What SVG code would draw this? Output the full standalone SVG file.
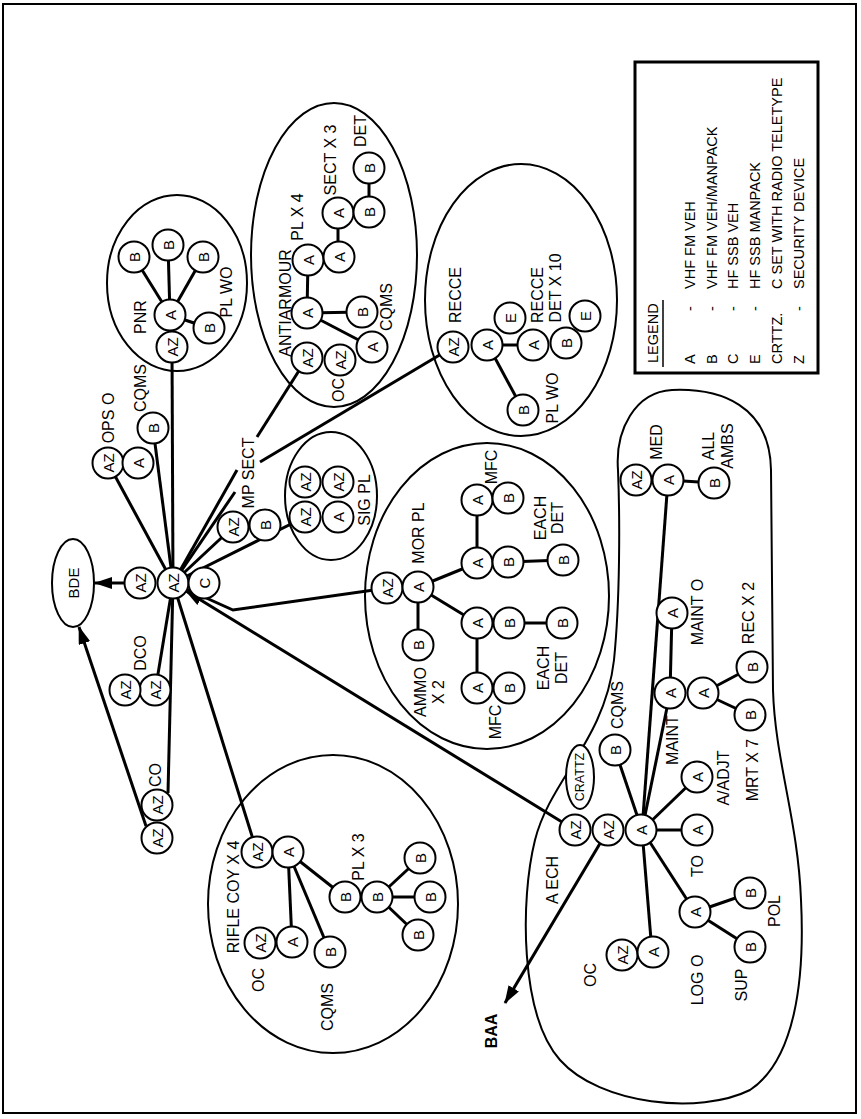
<svg xmlns="http://www.w3.org/2000/svg" width="861" height="1119" viewBox="0 0 861 1119">
<defs>
<style>
text{font-family:"Liberation Sans",Arial,sans-serif;fill:#000;dominant-baseline:central}
.n circle{fill:#fff;stroke:#000;stroke-width:2}
.n text{font-size:15px;text-anchor:middle}
.lb{font-size:16px;text-anchor:middle}
.g{fill:none;stroke:#000;stroke-width:2}
.cn line,.cn polyline{stroke:#000;stroke-width:3;fill:none}
.lg{font-size:14.5px;text-anchor:start}
</style>
<marker id="ar" markerUnits="userSpaceOnUse" markerWidth="18" markerHeight="12" refX="17" refY="6" orient="auto"><path d="M0,0 L18,6 L0,12 z" fill="#000"/></marker>
</defs>
<rect x="3" y="4" width="853" height="1109" fill="#fff" stroke="#000" stroke-width="2"/>

<!-- group outlines -->
<g id="pnr-group"><ellipse class="g" cx="177" cy="283" rx="70" ry="88"/></g>
<g id="antiarmour-group"><ellipse class="g" cx="334" cy="255" rx="83" ry="152"/></g>
<g id="recce-group"><ellipse class="g" cx="521" cy="300" rx="96" ry="136"/></g>
<g id="sigpl-group"><ellipse class="g" cx="331" cy="496" rx="46" ry="64"/></g>
<g id="morpl-group"><ellipse class="g" cx="487" cy="596" rx="122" ry="153"/></g>
<g id="riflecoy-group"><ellipse class="g" cx="333" cy="904" rx="125" ry="149"/></g>
<g id="aech-group"><path class="g" d="M618,470 C615,430 635,392 672,390 C720,388 770,405 771,470 L773,690 C775,760 798,820 801,900 C805,980 795,1060 750,1090 C700,1115 600,1105 560,1060 C520,1015 520,900 535,840 C550,780 605,740 614,660 C620,600 620,520 618,470 Z"/></g>

<!-- connectors -->
<g id="connectors" class="cn">
<line x1="173" y1="583" x2="108" y2="463"/>
<line x1="173" y1="583" x2="153" y2="428"/>
<line x1="173" y1="583" x2="172" y2="347"/>
<line x1="173" y1="583" x2="237" y2="470"/>
<line x1="257" y1="437" x2="307" y2="358"/>
<line x1="173" y1="583" x2="235" y2="492"/>
<line x1="260" y1="462" x2="453" y2="347"/>
<line x1="173" y1="583" x2="233" y2="527"/>
<line x1="173" y1="583" x2="305" y2="517"/>
<polyline points="173,583 233,610 388,588"/>
<line x1="575" y1="830" x2="186" y2="591" marker-end="url(#ar)"/>
<line x1="173" y1="583" x2="257" y2="852"/>
<line x1="173" y1="583" x2="168" y2="793"/>
<line x1="173" y1="583" x2="157" y2="680"/>
<line x1="125" y1="583" x2="95" y2="583" marker-end="url(#ar)"/>
<line x1="146" y1="826" x2="79" y2="627" marker-end="url(#ar)"/>
<line x1="608" y1="830" x2="505" y2="1003" marker-end="url(#ar)"/>
<!-- PNR -->
<line x1="170" y1="315" x2="134" y2="257"/>
<line x1="170" y1="315" x2="168" y2="245"/>
<line x1="170" y1="315" x2="203" y2="257"/>
<line x1="170" y1="315" x2="209" y2="328"/>
<!-- antiarmour -->
<line x1="307" y1="313" x2="362" y2="312"/>
<line x1="307" y1="313" x2="372" y2="347"/>
<line x1="307" y1="313" x2="308" y2="260"/>
<line x1="338" y1="257" x2="338" y2="213"/>
<line x1="369" y1="212" x2="369" y2="168"/>
<!-- recce -->
<line x1="488" y1="345" x2="533" y2="345"/>
<line x1="488" y1="345" x2="523" y2="410"/>
<!-- mor pl -->
<line x1="418" y1="587" x2="418" y2="645"/>
<line x1="418" y1="587" x2="477" y2="563"/>
<line x1="418" y1="587" x2="477" y2="623"/>
<line x1="477" y1="563" x2="477" y2="500"/>
<line x1="508" y1="562" x2="563" y2="560"/>
<line x1="477" y1="623" x2="477" y2="688"/>
<line x1="510" y1="623" x2="562" y2="623"/>
<!-- rifle coy -->
<line x1="288" y1="852" x2="345" y2="897"/>
<line x1="288" y1="852" x2="292" y2="942"/>
<line x1="288" y1="852" x2="330" y2="952"/>
<line x1="378" y1="897" x2="420" y2="858"/>
<line x1="378" y1="897" x2="430" y2="897"/>
<line x1="378" y1="897" x2="418" y2="935"/>
<!-- a ech -->
<line x1="642" y1="830" x2="615" y2="750"/>
<line x1="642" y1="830" x2="670" y2="693"/>
<line x1="642" y1="830" x2="668" y2="480"/>
<line x1="642" y1="830" x2="697" y2="777"/>
<line x1="642" y1="830" x2="697" y2="830"/>
<line x1="642" y1="830" x2="695" y2="912"/>
<line x1="642" y1="830" x2="652" y2="952"/>
<line x1="670" y1="693" x2="672" y2="613"/>
<line x1="703" y1="693" x2="752" y2="667"/>
<line x1="703" y1="693" x2="750" y2="715"/>
<line x1="695" y1="912" x2="750" y2="893"/>
<line x1="695" y1="912" x2="750" y2="947"/>
<line x1="668" y1="480" x2="714" y2="483"/>
</g>

<!-- BDE -->
<g id="bde"><ellipse cx="73" cy="583" rx="21" ry="44" fill="#fff" stroke="#000" stroke-width="2"/><text style="font-size:15px;text-anchor:middle" transform="translate(73 583) rotate(-90)">BDE</text></g>

<!-- hub -->
<g id="hub-az" class="n"><circle cx="173" cy="583" r="15.5"/><text transform="translate(173 583) rotate(-90)">AZ</text></g>
<g id="hub-c" class="n"><circle cx="204" cy="583" r="15.5"/><text transform="translate(204 583) rotate(-90)">C</text></g>
<g id="hub-az2" class="n"><circle cx="140" cy="583" r="15.5"/><text transform="translate(140 583) rotate(-90)">AZ</text></g>

<!-- DCO / CO -->
<g id="dco-az1" class="n"><circle cx="155" cy="690" r="15.5"/><text transform="translate(155 690) rotate(-90)">AZ</text></g>
<g id="dco-az2" class="n"><circle cx="125" cy="690" r="15.5"/><text transform="translate(125 690) rotate(-90)">AZ</text></g>
<g id="co-az1" class="n"><circle cx="157" cy="805" r="15.5"/><text transform="translate(157 805) rotate(-90)">AZ</text></g>
<g id="co-az2" class="n"><circle cx="157" cy="838" r="15.5"/><text transform="translate(157 838) rotate(-90)">AZ</text></g>

<!-- OPS O / CQMS -->
<g id="ops-az" class="n"><circle cx="108" cy="463" r="15.5"/><text transform="translate(108 463) rotate(-90)">AZ</text></g>
<g id="ops-a" class="n"><circle cx="138" cy="463" r="15.5"/><text transform="translate(138 463) rotate(-90)">A</text></g>
<g id="cqms-b" class="n"><circle cx="153" cy="428" r="15.5"/><text transform="translate(153 428) rotate(-90)">B</text></g>

<!-- PNR -->
<g id="pnr-az" class="n"><circle cx="172" cy="347" r="15.5"/><text transform="translate(172 347) rotate(-90)">AZ</text></g>
<g id="pnr-a" class="n"><circle cx="170" cy="315" r="15.5"/><text transform="translate(170 315) rotate(-90)">A</text></g>
<g id="pnr-b1" class="n"><circle cx="134" cy="257" r="15.5"/><text transform="translate(134 257) rotate(-90)">B</text></g>
<g id="pnr-b2" class="n"><circle cx="168" cy="245" r="15.5"/><text transform="translate(168 245) rotate(-90)">B</text></g>
<g id="pnr-b3" class="n"><circle cx="203" cy="257" r="15.5"/><text transform="translate(203 257) rotate(-90)">B</text></g>
<g id="pnr-b4" class="n"><circle cx="209" cy="328" r="15.5"/><text transform="translate(209 328) rotate(-90)">B</text></g>

<!-- MP SECT -->
<g id="mp-az" class="n"><circle cx="233" cy="527" r="15.5"/><text transform="translate(233 527) rotate(-90)">AZ</text></g>
<g id="mp-b" class="n"><circle cx="265" cy="525" r="15.5"/><text transform="translate(265 525) rotate(-90)">B</text></g>

<!-- SIG PL -->
<g id="sig-az1" class="n"><circle cx="305" cy="517" r="15.5"/><text transform="translate(305 517) rotate(-90)">AZ</text></g>
<g id="sig-a" class="n"><circle cx="338" cy="517" r="15.5"/><text transform="translate(338 517) rotate(-90)">A</text></g>
<g id="sig-az2" class="n"><circle cx="305" cy="482" r="15.5"/><text transform="translate(305 482) rotate(-90)">AZ</text></g>
<g id="sig-az3" class="n"><circle cx="338" cy="482" r="15.5"/><text transform="translate(338 482) rotate(-90)">AZ</text></g>

<!-- ANTIARMOUR -->
<g id="aa-az" class="n"><circle cx="307" cy="358" r="15.5"/><text transform="translate(307 358) rotate(-90)">AZ</text></g>
<g id="aa-a" class="n"><circle cx="307" cy="313" r="15.5"/><text transform="translate(307 313) rotate(-90)">A</text></g>
<g id="aa-b" class="n"><circle cx="362" cy="312" r="15.5"/><text transform="translate(362 312) rotate(-90)">B</text></g>
<g id="aa-cqms-a" class="n"><circle cx="372" cy="347" r="15.5"/><text transform="translate(372 347) rotate(-90)">A</text></g>
<g id="aa-oc-az" class="n"><circle cx="340" cy="360" r="15.5"/><text transform="translate(340 360) rotate(-90)">AZ</text></g>
<g id="aa-pl-a1" class="n"><circle cx="308" cy="260" r="15.5"/><text transform="translate(308 260) rotate(-90)">A</text></g>
<g id="aa-pl-a2" class="n"><circle cx="339" cy="257" r="15.5"/><text transform="translate(339 257) rotate(-90)">A</text></g>
<g id="aa-sect-a" class="n"><circle cx="338" cy="213" r="15.5"/><text transform="translate(338 213) rotate(-90)">A</text></g>
<g id="aa-sect-b" class="n"><circle cx="369" cy="212" r="15.5"/><text transform="translate(369 212) rotate(-90)">B</text></g>
<g id="aa-det-b" class="n"><circle cx="369" cy="168" r="15.5"/><text transform="translate(369 168) rotate(-90)">B</text></g>

<!-- RECCE -->
<g id="rc-az" class="n"><circle cx="453" cy="347" r="15.5"/><text transform="translate(453 347) rotate(-90)">AZ</text></g>
<g id="rc-a" class="n"><circle cx="487" cy="345" r="15.5"/><text transform="translate(487 345) rotate(-90)">A</text></g>
<g id="rc-e1" class="n"><circle cx="510" cy="318" r="15.5"/><text transform="translate(510 318) rotate(-90)">E</text></g>
<g id="rc-a2" class="n"><circle cx="533" cy="345" r="15.5"/><text transform="translate(533 345) rotate(-90)">A</text></g>
<g id="rc-b" class="n"><circle cx="566" cy="343" r="15.5"/><text transform="translate(566 343) rotate(-90)">B</text></g>
<g id="rc-e2" class="n"><circle cx="585" cy="316" r="15.5"/><text transform="translate(585 316) rotate(-90)">E</text></g>
<g id="rc-plwo-b" class="n"><circle cx="523" cy="410" r="15.5"/><text transform="translate(523 410) rotate(-90)">B</text></g>

<!-- MOR PL -->
<g id="mor-az" class="n"><circle cx="387" cy="588" r="15.5"/><text transform="translate(387 588) rotate(-90)">AZ</text></g>
<g id="mor-a" class="n"><circle cx="418" cy="587" r="15.5"/><text transform="translate(418 587) rotate(-90)">A</text></g>
<g id="mor-ammo-b" class="n"><circle cx="418" cy="645" r="15.5"/><text transform="translate(418 645) rotate(-90)">B</text></g>
<g id="mor-a1" class="n"><circle cx="477" cy="563" r="15.5"/><text transform="translate(477 563) rotate(-90)">A</text></g>
<g id="mor-b1" class="n"><circle cx="508" cy="562" r="15.5"/><text transform="translate(508 562) rotate(-90)">B</text></g>
<g id="mor-b1d" class="n"><circle cx="563" cy="560" r="15.5"/><text transform="translate(563 560) rotate(-90)">B</text></g>
<g id="mor-mfc-a1" class="n"><circle cx="477" cy="500" r="15.5"/><text transform="translate(477 500) rotate(-90)">A</text></g>
<g id="mor-mfc-b1" class="n"><circle cx="508" cy="498" r="15.5"/><text transform="translate(508 498) rotate(-90)">B</text></g>
<g id="mor-a2" class="n"><circle cx="477" cy="623" r="15.5"/><text transform="translate(477 623) rotate(-90)">A</text></g>
<g id="mor-b2" class="n"><circle cx="509" cy="623" r="15.5"/><text transform="translate(509 623) rotate(-90)">B</text></g>
<g id="mor-b2d" class="n"><circle cx="562" cy="623" r="15.5"/><text transform="translate(562 623) rotate(-90)">B</text></g>
<g id="mor-mfc-a2" class="n"><circle cx="477" cy="688" r="15.5"/><text transform="translate(477 688) rotate(-90)">A</text></g>
<g id="mor-mfc-b2" class="n"><circle cx="509" cy="688" r="15.5"/><text transform="translate(509 688) rotate(-90)">B</text></g>

<!-- RIFLE COY -->
<g id="rf-az" class="n"><circle cx="257" cy="852" r="15.5"/><text transform="translate(257 852) rotate(-90)">AZ</text></g>
<g id="rf-a" class="n"><circle cx="288" cy="852" r="15.5"/><text transform="translate(288 852) rotate(-90)">A</text></g>
<g id="rf-pl-b" class="n"><circle cx="345" cy="897" r="15.5"/><text transform="translate(345 897) rotate(-90)">B</text></g>
<g id="rf-pl-b0" class="n"><circle cx="377" cy="897" r="15.5"/><text transform="translate(377 897) rotate(-90)">B</text></g>
<g id="rf-pl-b1" class="n"><circle cx="420" cy="858" r="15.5"/><text transform="translate(420 858) rotate(-90)">B</text></g>
<g id="rf-pl-b2" class="n"><circle cx="430" cy="897" r="15.5"/><text transform="translate(430 897) rotate(-90)">B</text></g>
<g id="rf-pl-b3" class="n"><circle cx="418" cy="935" r="15.5"/><text transform="translate(418 935) rotate(-90)">B</text></g>
<g id="rf-oc-az" class="n"><circle cx="260" cy="943" r="15.5"/><text transform="translate(260 943) rotate(-90)">AZ</text></g>
<g id="rf-oc-a" class="n"><circle cx="292" cy="942" r="15.5"/><text transform="translate(292 942) rotate(-90)">A</text></g>
<g id="rf-cqms-b" class="n"><circle cx="330" cy="952" r="15.5"/><text transform="translate(330 952) rotate(-90)">B</text></g>

<!-- A ECH -->
<g id="crattz"><ellipse cx="580" cy="777" rx="14" ry="32" fill="#fff" stroke="#000" stroke-width="2"/><text style="font-size:12.5px;text-anchor:middle" transform="translate(580 777) rotate(-90)">CRATTZ</text></g>
<g id="ae-az1" class="n"><circle cx="575" cy="830" r="15.5"/><text transform="translate(575 830) rotate(-90)">AZ</text></g>
<g id="ae-az2" class="n"><circle cx="608" cy="830" r="15.5"/><text transform="translate(608 830) rotate(-90)">AZ</text></g>
<g id="ae-a" class="n"><circle cx="641" cy="830" r="15.5"/><text transform="translate(641 830) rotate(-90)">A</text></g>
<g id="ae-cqms-b" class="n"><circle cx="615" cy="750" r="15.5"/><text transform="translate(615 750) rotate(-90)">B</text></g>
<g id="ae-maint-a" class="n"><circle cx="670" cy="693" r="15.5"/><text transform="translate(670 693) rotate(-90)">A</text></g>
<g id="ae-mainto-a" class="n"><circle cx="672" cy="613" r="15.5"/><text transform="translate(672 613) rotate(-90)">A</text></g>
<g id="ae-rec-a" class="n"><circle cx="703" cy="693" r="15.5"/><text transform="translate(703 693) rotate(-90)">A</text></g>
<g id="ae-rec-b1" class="n"><circle cx="752" cy="667" r="15.5"/><text transform="translate(752 667) rotate(-90)">B</text></g>
<g id="ae-rec-b2" class="n"><circle cx="750" cy="715" r="15.5"/><text transform="translate(750 715) rotate(-90)">B</text></g>
<g id="ae-adjt-a" class="n"><circle cx="697" cy="777" r="15.5"/><text transform="translate(697 777) rotate(-90)">A</text></g>
<g id="ae-to-a" class="n"><circle cx="697" cy="830" r="15.5"/><text transform="translate(697 830) rotate(-90)">A</text></g>
<g id="ae-log-a" class="n"><circle cx="695" cy="912" r="15.5"/><text transform="translate(695 912) rotate(-90)">A</text></g>
<g id="ae-pol-b" class="n"><circle cx="750" cy="893" r="15.5"/><text transform="translate(750 893) rotate(-90)">B</text></g>
<g id="ae-sup-b" class="n"><circle cx="750" cy="947" r="15.5"/><text transform="translate(750 947) rotate(-90)">B</text></g>
<g id="ae-oc-az" class="n"><circle cx="622" cy="955" r="15.5"/><text transform="translate(622 955) rotate(-90)">AZ</text></g>
<g id="ae-oc-a" class="n"><circle cx="653" cy="952" r="15.5"/><text transform="translate(653 952) rotate(-90)">A</text></g>
<g id="ae-med-az" class="n"><circle cx="636" cy="480" r="15.5"/><text transform="translate(636 480) rotate(-90)">AZ</text></g>
<g id="ae-med-a" class="n"><circle cx="668" cy="480" r="15.5"/><text transform="translate(668 480) rotate(-90)">A</text></g>
<g id="ae-med-b" class="n"><circle cx="714" cy="483" r="15.5"/><text transform="translate(714 483) rotate(-90)">B</text></g>

<!-- labels -->
<g id="labels">
<text class="lb" transform="translate(140 653) rotate(-90)">DCO</text>
<text class="lb" transform="translate(155 775) rotate(-90)">CO</text>
<text class="lb" transform="translate(108 418) rotate(-90)">OPS O</text>
<text class="lb" transform="translate(140 388) rotate(-90)">CQMS</text>
<text class="lb" transform="translate(140 317) rotate(-90)">PNR</text>
<text class="lb" transform="translate(226 292) rotate(-90)">PL WO</text>
<text class="lb" transform="translate(248 473) rotate(-90)">MP SECT</text>
<text class="lb" transform="translate(364 500) rotate(-90)">SIG PL</text>
<text class="lb" transform="translate(285 303) rotate(-90)">ANTIARMOUR</text>
<text class="lb" transform="translate(338 390) rotate(-90)">OC</text>
<text class="lb" transform="translate(386 307) rotate(-90)">CQMS</text>
<text class="lb" transform="translate(297 217) rotate(-90)">PL X 4</text>
<text class="lb" transform="translate(330 160) rotate(-90)">SECT X 3</text>
<text class="lb" transform="translate(360 131) rotate(-90)">DET</text>
<text class="lb" transform="translate(455 295) rotate(-90)">RECCE</text>
<text class="lb" transform="translate(537 295) rotate(-90)">RECCE</text>
<text class="lb" transform="translate(555 288) rotate(-90)">DET X 10</text>
<text class="lb" transform="translate(552 398) rotate(-90)">PL WO</text>
<text class="lb" transform="translate(418 533) rotate(-90)">MOR PL</text>
<text class="lb" transform="translate(420 692) rotate(-90)">AMMO</text>
<text class="lb" transform="translate(438 692) rotate(-90)">X 2</text>
<text class="lb" transform="translate(491 467) rotate(-90)">MFC</text>
<text class="lb" transform="translate(495 722) rotate(-90)">MFC</text>
<text class="lb" transform="translate(540 518) rotate(-90)">EACH</text>
<text class="lb" transform="translate(557 518) rotate(-90)">DET</text>
<text class="lb" transform="translate(543 668) rotate(-90)">EACH</text>
<text class="lb" transform="translate(561 668) rotate(-90)">DET</text>
<text class="lb" transform="translate(233 897) rotate(-90)">RIFLE COY X 4</text>
<text class="lb" transform="translate(358 857) rotate(-90)">PL X 3</text>
<text class="lb" transform="translate(258 980) rotate(-90)">OC</text>
<text class="lb" transform="translate(327 1007) rotate(-90)">CQMS</text>
<text class="lb" transform="translate(552 880) rotate(-90)">A ECH</text>
<text class="lb" transform="translate(617 705) rotate(-90)">CQMS</text>
<text class="lb" transform="translate(672 740) rotate(-90)">MAINT</text>
<text class="lb" transform="translate(697 612) rotate(-90)">MAINT O</text>
<text class="lb" transform="translate(748 613) rotate(-90)">REC X 2</text>
<text class="lb" transform="translate(752 770) rotate(-90)">MRT X 7</text>
<text class="lb" transform="translate(723 778) rotate(-90)">A/ADJT</text>
<text class="lb" transform="translate(697 866) rotate(-90)">TO</text>
<text class="lb" transform="translate(774 911) rotate(-90)">POL</text>
<text class="lb" transform="translate(697 980) rotate(-90)">LOG O</text>
<text class="lb" transform="translate(741 985) rotate(-90)">SUP</text>
<text class="lb" transform="translate(590 975) rotate(-90)">OC</text>
<text class="lb" transform="translate(656 442) rotate(-90)">MED</text>
<text class="lb" transform="translate(708 446) rotate(-90)">ALL</text>
<text class="lb" transform="translate(727 446) rotate(-90)">AMBS</text>
<text class="lb" style="font-weight:bold" transform="translate(491 1031) rotate(-90)">BAA</text>
</g>

<!-- legend -->
<g id="legend">
<rect x="635" y="62" width="183" height="311" fill="none" stroke="#000" stroke-width="3"/>
<text class="lg" transform="translate(653 363) rotate(-90)">LEGEND</text>
<line x1="663" y1="300" x2="663" y2="367" stroke="#000" stroke-width="1.5"/>
<text class="lg" transform="translate(690 364) rotate(-90)">A</text>
<text class="lg" transform="translate(712 364) rotate(-90)">B</text>
<text class="lg" transform="translate(733 364) rotate(-90)">C</text>
<text class="lg" transform="translate(755 364) rotate(-90)">E</text>
<text class="lg" transform="translate(777 364) rotate(-90)">CRTTZ.</text>
<text class="lg" transform="translate(799 364) rotate(-90)">Z</text>
<text class="lg" transform="translate(690 311) rotate(-90)">-</text>
<text class="lg" transform="translate(712 311) rotate(-90)">-</text>
<text class="lg" transform="translate(733 311) rotate(-90)">-</text>
<text class="lg" transform="translate(755 311) rotate(-90)">-</text>
<text class="lg" transform="translate(799 311) rotate(-90)">-</text>
<text class="lg" transform="translate(690 289) rotate(-90)">VHF FM VEH</text>
<text class="lg" transform="translate(712 289) rotate(-90)">VHF FM VEH/MANPACK</text>
<text class="lg" transform="translate(733 289) rotate(-90)">HF SSB VEH</text>
<text class="lg" transform="translate(755 289) rotate(-90)">HF SSB MANPACK</text>
<text class="lg" transform="translate(777 289) rotate(-90)">C SET WITH RADIO TELETYPE</text>
<text class="lg" transform="translate(799 289) rotate(-90)">SECURITY DEVICE</text>
</g>
</svg>
